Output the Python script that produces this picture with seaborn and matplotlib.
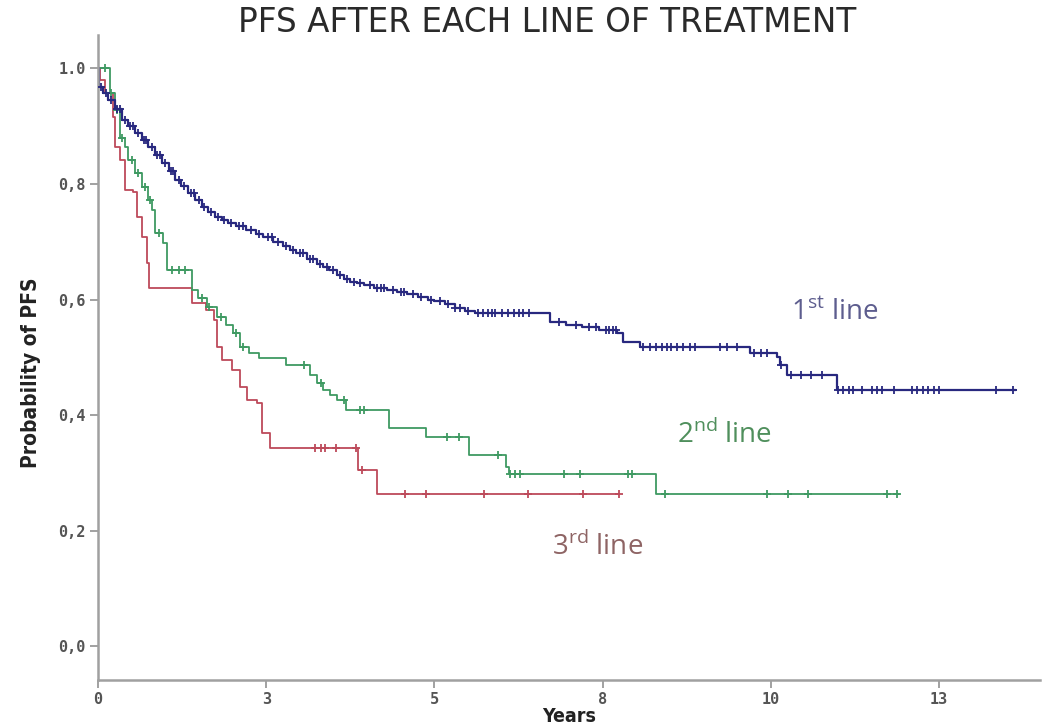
import numpy as np
import pandas as pd
import matplotlib
matplotlib.use("Agg")
import matplotlib.pyplot as plt
from matplotlib.font_manager import FontProperties
import seaborn as sns

# ---- Kaplan-Meier step curves (time in years, survival probability) ----
line1_t = [0, 0.01, 0.08, 0.15, 0.25, 0.36, 0.45, 0.55, 0.65, 0.74, 0.85, 0.95,
           1.05, 1.14, 1.24, 1.34, 1.44, 1.54, 1.64, 1.74, 1.84, 1.93, 2.05, 2.2,
           2.35, 2.45, 2.6, 2.75, 2.85, 2.95, 3.1, 3.25, 3.35, 3.44, 3.55, 3.65,
           3.75, 3.85, 3.95, 4.1, 4.3, 4.45, 4.6, 4.75, 4.9, 5.0, 5.15, 5.3, 5.45,
           5.6, 6.72, 6.95, 7.2, 7.45, 7.72, 7.80, 8.06, 9.69, 10.09, 10.13, 10.24,
           10.98]
line1_s = [1.0, 0.968, 0.957, 0.946, 0.93, 0.911, 0.90, 0.888, 0.876, 0.864, 0.85,
           0.836, 0.822, 0.807, 0.796, 0.785, 0.772, 0.760, 0.751, 0.743, 0.738,
           0.733, 0.727, 0.720, 0.713, 0.708, 0.700, 0.692, 0.686, 0.680, 0.671,
           0.662, 0.656, 0.651, 0.643, 0.636, 0.631, 0.628, 0.625, 0.620, 0.616,
           0.613, 0.609, 0.604, 0.600, 0.597, 0.592, 0.586, 0.581, 0.577, 0.561,
           0.557, 0.553, 0.548, 0.542, 0.527, 0.518, 0.508, 0.501, 0.487, 0.470,
           0.444]
line1_end = 13.65
line1_censored = [0.05, 0.12, 0.2, 0.28, 0.33, 0.4, 0.48, 0.52, 0.6, 0.68, 0.72, 0.8,
                  0.88, 0.92, 1.0, 1.08, 1.12, 1.2, 1.28, 1.38, 1.42, 1.5, 1.58,
                  1.68, 1.78, 1.88, 1.98, 2.1, 2.15, 2.28, 2.4, 2.52, 2.58, 2.68,
                  2.8, 2.9, 3.0, 3.05, 3.15, 3.2, 3.3, 3.4, 3.5, 3.6, 3.7, 3.8, 3.9,
                  4.05, 4.15, 4.2, 4.25, 4.38, 4.5, 4.55, 4.68, 4.8, 4.95, 5.08, 5.2,
                  5.3, 5.38, 5.5, 5.65, 5.72, 5.8, 5.85, 5.9, 6.0, 6.1, 6.18, 6.25,
                  6.32, 6.4, 6.85, 7.1, 7.3, 7.4, 7.55, 7.6, 7.65, 7.7, 8.1, 8.2,
                  8.3, 8.38, 8.45, 8.52, 8.6, 8.7, 8.8, 8.88, 9.25, 9.35, 9.5, 9.75,
                  9.85, 9.95, 10.15, 10.3, 10.45, 10.6, 10.76, 11.0, 11.08, 11.16,
                  11.22, 11.35, 11.5, 11.58, 11.66, 11.83, 12.1, 12.18, 12.26,
                  12.34, 12.42, 12.5, 13.35, 13.6]

line2_t = [0, 0.18, 0.25, 0.33, 0.40, 0.45, 0.55, 0.65, 0.74, 0.80, 0.85, 0.97,
           1.02, 1.39, 1.48, 1.62, 1.77, 1.90, 2.00, 2.11, 2.25, 2.40, 2.80, 3.15,
           3.25, 3.34, 3.45, 3.55, 3.69, 4.33, 4.88, 5.52, 6.07, 6.11, 8.29]
line2_s = [1.0, 0.957, 0.928, 0.88, 0.864, 0.842, 0.819, 0.795, 0.772, 0.755,
           0.715, 0.698, 0.651, 0.617, 0.603, 0.587, 0.570, 0.556, 0.542, 0.518,
           0.508, 0.499, 0.487, 0.470, 0.456, 0.444, 0.435, 0.427, 0.409, 0.378,
           0.363, 0.332, 0.311, 0.299, 0.263]
line2_end = 11.9
line2_censored = [0.1, 0.2, 0.28, 0.36, 0.5, 0.6, 0.7, 0.78, 0.9, 1.1, 1.2, 1.3,
                  1.55, 1.65, 1.83, 2.05, 2.15, 3.06, 3.31, 3.65, 3.9, 3.95, 5.19,
                  5.36, 5.95, 6.13, 6.2, 6.27, 6.92, 7.17, 7.88, 7.94, 8.43, 9.94,
                  10.25, 10.55, 11.72, 11.88]

line3_t = [0, 0.03, 0.10, 0.22, 0.25, 0.33, 0.40, 0.52, 0.58, 0.65, 0.73, 0.76,
           1.40, 1.60, 1.72, 1.77, 1.85, 1.99, 2.11, 2.21, 2.36, 2.43, 2.55, 3.86,
           4.15]
line3_s = [1.0, 0.98, 0.957, 0.916, 0.864, 0.842, 0.79, 0.786, 0.743, 0.709,
           0.663, 0.620, 0.594, 0.582, 0.565, 0.518, 0.496, 0.478, 0.449, 0.427,
           0.421, 0.370, 0.344, 0.306, 0.263]
line3_end = 7.75
line3_censored = [3.23, 3.31, 3.38, 3.53, 3.84, 3.92, 4.57, 4.87, 5.73, 6.39,
                  7.21, 7.75]

line_names = ["1st line", "2nd line", "3rd line"]
line_colors = ["#28287f", "#3f9a62", "#bd4a5a"]
label_colors = ["#5d5d8e", "#4f8f5c", "#8e6464"]

x_tick_pos = [0, 2.5, 5, 7.5, 10, 12.5]
x_tick_labels = ["0", "3", "5", "8", "10", "13"]
y_tick_pos = [0.0, 0.2, 0.4, 0.6, 0.8, 1.0]
y_tick_labels = ["0,0", "0,2", "0,4", "0,6", "0,8", "1.0"]


def step_value(ts, ss, when):
    idx = np.searchsorted(np.asarray(ts), np.asarray(when), side="right") - 1
    return np.asarray(ss)[idx]


curves = [(line1_t, line1_s, line1_end, line1_censored),
          (line2_t, line2_s, line2_end, line2_censored),
          (line3_t, line3_s, line3_end, line3_censored)]

step_rows = []
cens_rows = []
for name, (ts, ss, end, cens) in zip(line_names, curves):
    for t, s in zip(ts + [end], ss + [ss[-1]]):
        step_rows.append({"t": t, "S": s, "line": name})
    for t, s in zip(cens, step_value(ts, ss, cens)):
        cens_rows.append({"t": t, "S": s, "line": name})
steps = pd.DataFrame(step_rows)
censor = pd.DataFrame(cens_rows)

sns.set_theme(style="white")
plt.rcParams["font.family"] = ["Open Sans", "DejaVu Sans"]
plt.rcParams["mathtext.fontset"] = "custom"
plt.rcParams["mathtext.rm"] = "Open Sans"

fig = plt.figure(figsize=(10.46, 7.25), dpi=100)
ax = fig.add_axes([0.0937, 0.0621, 0.9005, 0.8897])

palette = dict(zip(line_names, line_colors))
mark_size = {"1st line": 26, "2nd line": 32, "3rd line": 32}
line_width = {"1st line": 1.6, "2nd line": 1.3, "3rd line": 1.3}
# draw later lines first so the 1st line sits on top
for name in line_names[::-1]:
    sns.lineplot(data=steps[steps.line == name], x="t", y="S", color=palette[name],
                 drawstyle="steps-post", estimator=None, sort=False,
                 linewidth=line_width[name], ax=ax, legend=False)
    sns.scatterplot(data=censor[censor.line == name], x="t", y="S",
                    color=palette[name], marker="+", s=mark_size[name],
                    linewidth=1.3, ax=ax, legend=False, zorder=3)

ax.set_xlim(0, 14.0)
ax.set_ylim(-0.058, 1.058)
ax.set_xticks(x_tick_pos)
ax.set_xticklabels(x_tick_labels)
ax.set_yticks(y_tick_pos)
ax.set_yticklabels(y_tick_labels)

tick_font = FontProperties(family="DejaVu Sans Mono", weight="bold", size=11)
for lab in ax.get_xticklabels() + ax.get_yticklabels():
    lab.set_fontproperties(tick_font)
    lab.set_color("#555555")
ax.tick_params(axis="both", length=6, width=1.3, color="#9a9a9a", pad=3,
               bottom=True, left=True)

sns.despine(ax=ax)
for side in ("left", "bottom"):
    ax.spines[side].set_color("#a0a0a0")
    ax.spines[side].set_linewidth(1.8)

axis_font = FontProperties(family="DejaVu Sans", weight="bold",
                           stretch="condensed", size=14)
ax.set_xlabel("Years", fontproperties=axis_font, color="#222222", labelpad=0)
ylabel_font = FontProperties(family="DejaVu Sans", weight="bold",
                             stretch="condensed", size=15)
ax.set_ylabel("Probability of PFS", fontproperties=ylabel_font, color="#222222")
ax.yaxis.set_label_coords(-0.061, 0.477)

fig.text(0.523, 0.969, "PFS AFTER EACH LINE OF TREATMENT", ha="center",
         va="center", fontsize=23.5, color="#2a2a2a",
         family=["DejaVu Sans"])

label_pos = [(10.3, 0.577), (8.6, 0.366), (6.75, 0.172)]
label_text = [r"1$^{\mathrm{st}}$ line", r"2$^{\mathrm{nd}}$ line",
              r"3$^{\mathrm{rd}}$ line"]
for (x, y), txt, col in zip(label_pos, label_text, label_colors):
    ax.text(x, y, txt, color=col, fontsize=20, ha="left", va="center")

fig.savefig("out.png", dpi=100)
